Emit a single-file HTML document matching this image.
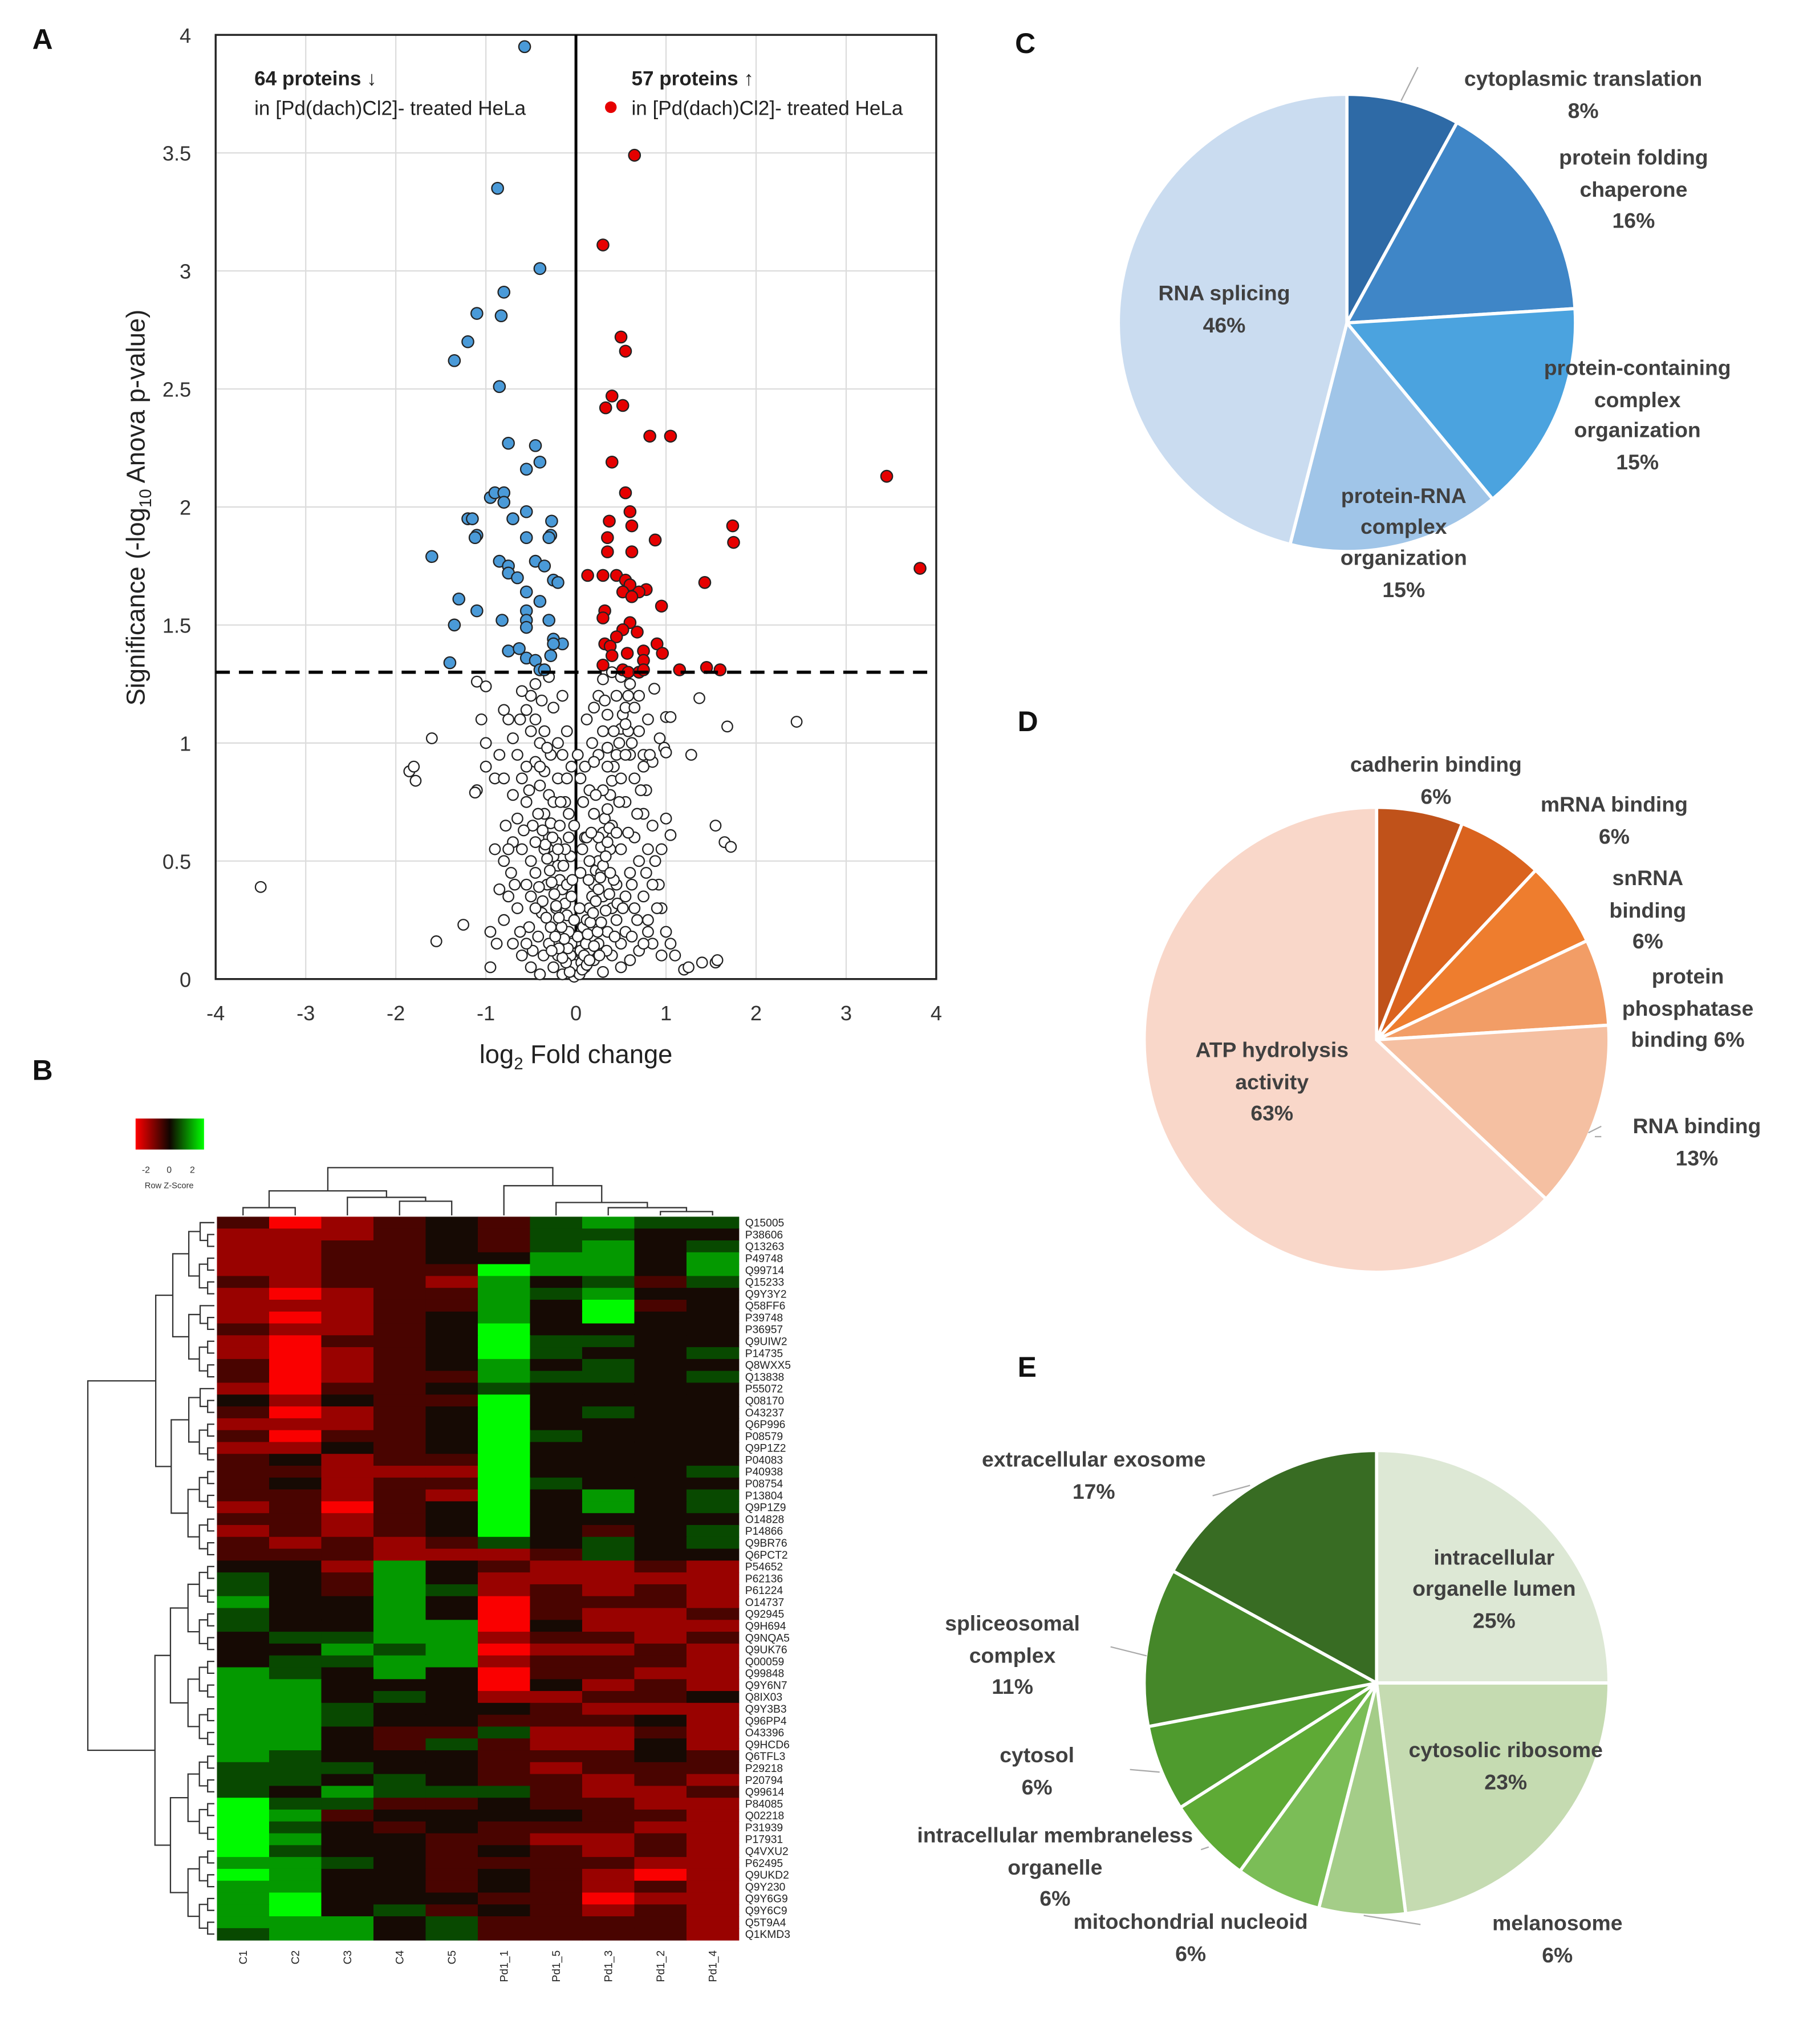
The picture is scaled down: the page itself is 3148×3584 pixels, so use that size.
<!DOCTYPE html>
<html><head><meta charset="utf-8">
<style>
html,body{margin:0;padding:0;background:#fff;}
svg{display:block;font-family:"Liberation Sans",sans-serif;}
.pl{font-weight:bold;fill:#404040;font-size:16.5px;text-anchor:middle;dominant-baseline:middle;}
.panel{font-weight:bold;font-size:22px;fill:#111;}
</style></head>
<body>
<svg id="fig" width="3148" height="3584" viewBox="0 0 1390 1582.5" xmlns="http://www.w3.org/2000/svg">
<rect width="1390" height="1582.5" fill="#fff"/>
<g id="volcano"></g>
<g id="heat"></g>
<g id="pies"></g>
<text class="panel" x="25" y="38">A</text>
<text class="panel" x="25" y="836">B</text>
<text class="panel" x="786" y="41">C</text>
<text class="panel" x="788" y="566">D</text>
<text class="panel" x="788" y="1066">E</text>
</svg>
<script>
// ---------- Volcano data ----------
const xTicks=[-4,-3,-2,-1,0,1,2,3,4];
const yTicks=[0,0.5,1,1.5,2,2.5,3,3.5,4];
const threshold=1.3;
const bluePts=[[-0.57,3.95],[-0.87,3.35],[-0.4,3.01],[-0.8,2.91],[-1.1,2.82],[-0.83,2.81],[-1.2,2.7],[-1.35,2.62],[-0.85,2.51],[-0.75,2.27],[-0.45,2.26],[-0.4,2.19],[-0.55,2.16],[-0.95,2.04],[-0.9,2.06],[-0.8,2.06],[-0.8,2.02],[-0.55,1.98],[-1.2,1.95],[-1.15,1.95],[-0.7,1.95],[-0.27,1.94],[-1.1,1.88],[-1.12,1.87],[-0.55,1.87],[-0.28,1.88],[-0.3,1.87],[-1.6,1.79],[-0.85,1.77],[-0.45,1.77],[-0.35,1.75],[-0.75,1.75],[-0.75,1.72],[-0.65,1.7],[-0.25,1.69],[-0.2,1.68],[-0.55,1.64],[-1.3,1.61],[-0.4,1.6],[-1.1,1.56],[-0.55,1.56],[-1.35,1.5],[-0.82,1.52],[-0.55,1.52],[-0.3,1.52],[-0.55,1.49],[-0.25,1.44],[-0.15,1.42],[-0.25,1.42],[-0.75,1.39],[-0.63,1.4],[-0.55,1.36],[-0.45,1.35],[-0.28,1.37],[-1.4,1.34],[-0.4,1.31],[-0.35,1.31]];
const redPts=[[0.65,3.49],[0.3,3.11],[0.5,2.72],[0.55,2.66],[0.4,2.47],[0.33,2.42],[0.52,2.43],[0.82,2.3],[1.05,2.3],[0.4,2.19],[3.45,2.13],[0.55,2.06],[0.6,1.98],[0.37,1.94],[0.62,1.92],[1.74,1.92],[0.35,1.87],[0.88,1.86],[1.75,1.85],[0.35,1.81],[0.62,1.81],[3.82,1.74],[0.13,1.71],[0.3,1.71],[0.45,1.71],[0.55,1.69],[1.43,1.68],[0.6,1.67],[0.78,1.65],[0.7,1.64],[0.52,1.64],[0.62,1.62],[0.95,1.58],[0.32,1.56],[0.3,1.53],[0.6,1.51],[0.52,1.48],[0.68,1.47],[0.45,1.45],[0.32,1.42],[0.9,1.42],[0.38,1.41],[0.75,1.39],[0.4,1.37],[0.96,1.38],[0.57,1.38],[0.75,1.35],[0.3,1.33],[0.52,1.31],[0.58,1.3],[0.7,1.3],[0.75,1.31],[1.15,1.31],[1.45,1.32],[1.6,1.31]];
const grayPts=[[-3.5,0.39],[-1.55,0.16],[-1.25,0.23],[-1.6,1.02],[-1.85,0.88],[-1.8,0.9],[-1.78,0.84],[-0.95,0.05],[-1.1,0.8],[-1.12,0.79],[-1.0,0.9],[-1.0,1.0],[-1.05,1.1],[-1.1,1.26],[-1.0,1.24],[-0.8,1.14],[1.1,0.1],[1.2,0.04],[1.25,0.05],[1.4,0.07],[1.55,0.07],[1.57,0.08],[1.55,0.65],[1.65,0.58],[1.72,0.56],[1.68,1.07],[2.45,1.09],[1.37,1.19],[1.28,0.95],[1.05,0.61],[1.0,0.68],[0.95,0.55],[1.0,1.11],[1.05,1.11],[0.93,1.02],[0.98,0.98],[1.0,0.96],[0.85,0.92],[0.75,0.95],[0.87,1.23],[0.92,0.4],[0.95,0.3],[1.0,0.2],[0.95,0.1],[1.05,0.15],[0.85,0.15],[0.8,0.25],
[0,0.02],[0.03,0.05],[-0.03,0.08],[0.05,0.12],[-0.05,0.15],[0.02,0.18],[-0.08,0.2],[0.08,0.22],[-0.1,0.27],[0.12,0.25],[-0.12,0.32],[0.15,0.3],[-0.15,0.38],[0.18,0.35],[-0.18,0.42],[0.2,0.4],[-0.2,0.48],[0.22,0.46],[-0.25,0.52],[0.25,0.5],[-0.22,0.58],[0.28,0.56],[-0.3,0.6],[0.3,0.62],[-0.28,0.66],[0.32,0.68],[-0.35,0.7],[0.35,0.72],[-0.3,0.78],[0.38,0.78],[-0.4,0.82],[0.4,0.84],[-0.35,0.88],[0.42,0.9],[-0.45,0.92],[0.45,0.95],[-0.4,1.0],[0.48,1.0],[-0.5,1.05],[0.5,1.06],[-0.45,1.1],[0.52,1.12],[-0.55,1.14],[0.55,1.15],[-0.5,1.2],[0.58,1.2],[-0.6,1.22],[0.6,1.25],[-0.3,1.28],[0.3,1.27],
[-0.6,0.1],[-0.5,0.05],[-0.4,0.02],[-0.7,0.15],[-0.65,0.3],[-0.75,0.35],[-0.8,0.25],[-0.55,0.4],[-0.6,0.55],[-0.7,0.58],[-0.75,0.55],[-0.8,0.5],[-0.65,0.68],[-0.55,0.75],[-0.6,0.85],[-0.65,0.95],[-0.7,1.02],[-0.75,1.1],[-0.85,0.95],[-0.9,0.85],[-0.8,0.85],[-0.55,0.9],[-0.48,0.65],[-0.45,0.45],[-0.38,0.28],[-0.3,0.15],[-0.25,0.05],[-0.2,0.1],[-0.15,0.02],[-0.35,0.55],[-0.25,0.75],[-0.2,0.85],[-0.15,0.95],[-0.1,1.05],[-0.25,1.15],[-0.15,1.2],[-0.05,0.9],[-0.08,0.6],[-0.1,0.4],[-0.05,0.35],[-0.42,0.18],[-0.52,0.22],[-0.32,0.4],[-0.42,0.7],[-0.22,0.3],[-0.18,0.65],[-0.12,0.75],[-0.35,1.05],[-0.28,0.95],[-0.62,1.1],[-0.9,0.55],[-0.85,0.38],[-0.95,0.2],[-0.2,1.0],
[0.1,0.05],[0.2,0.08],[0.3,0.03],[0.4,0.1],[0.5,0.05],[0.6,0.08],[0.7,0.12],[0.35,0.2],[0.45,0.25],[0.55,0.2],[0.65,0.3],[0.75,0.35],[0.85,0.4],[0.6,0.45],[0.7,0.5],[0.8,0.55],[0.5,0.55],[0.65,0.6],[0.75,0.7],[0.85,0.65],[0.55,0.75],[0.65,0.85],[0.75,0.9],[0.6,0.95],[0.7,1.05],[0.8,1.1],[0.65,1.15],[0.7,1.2],[0.45,1.2],[0.4,1.3],[0.2,0.7],[0.15,0.8],[0.1,0.9],[0.18,1.0],[0.12,1.1],[0.2,1.15],[0.25,1.2],[0.1,0.6],[0.15,0.5],[0.25,0.6],[0.3,0.8],[0.35,0.9],[0.25,0.95],[0.3,1.05],[0.35,1.12],[0.4,0.65],[0.45,0.4],[0.4,0.3],[0.3,0.35],[0.25,0.15],[0.15,0.12],[0.55,0.35],[0.5,0.85],[0.8,0.2],[0.9,0.3],[0.78,0.8],[0.58,1.05],[0.48,0.75],[0.38,0.55],[0.28,0.45],
[-0.02,0.01],[0.01,0.03],[-0.04,0.04],[0.04,0.02],[-0.01,0.06],[0.06,0.07],[-0.06,0.1],[0.09,0.1],[-0.09,0.13],[0.11,0.15],[-0.13,0.17],[0.13,0.19],[-0.16,0.22],[0.16,0.24],[-0.19,0.26],[0.19,0.28],[-0.22,0.31],[0.22,0.33],[-0.24,0.36],[0.25,0.38],[-0.27,0.41],[0.27,0.43],[-0.29,0.46],[0.3,0.48],[-0.32,0.51],[0.33,0.52],[-0.34,0.57],[0.35,0.58],[-0.37,0.63],[0.37,0.64],
[-0.07,0.03],[0.07,0.04],[-0.11,0.07],[0.12,0.06],[-0.15,0.09],[0.15,0.08],[-0.19,0.13],[0.2,0.14],[-0.23,0.18],[0.24,0.2],[-0.28,0.22],[0.28,0.24],[-0.33,0.26],[0.33,0.29],[-0.37,0.33],[0.37,0.36],[-0.41,0.39],[0.42,0.42],[-0.45,0.3],[0.46,0.32],[-0.5,0.35],[0.5,0.15],[-0.48,0.12],[0.43,0.18],[-0.36,0.1],[0.34,0.12],[-0.27,0.12],[0.26,0.1],[-0.02,0.25],[0.04,0.3],
[-0.04,0.42],[0.05,0.45],[-0.06,0.52],[0.07,0.55],[-0.12,0.55],[0.12,0.6],[-0.14,0.48],[0.14,0.42],[-0.08,0.7],[0.08,0.75],[-0.17,0.75],[0.17,0.62],[-0.1,0.85],[0.05,0.85],[-0.02,0.65],[0.02,0.95],[-0.2,0.55],[0.22,0.78],[-0.26,0.6],[0.2,0.92],
[-0.55,0.15],[-0.62,0.2],[-0.68,0.4],[-0.5,0.5],[-0.58,0.63],[-0.45,0.58],[-0.52,0.8],[-0.4,0.9],[-0.32,0.98],[-0.38,1.18],[-0.45,1.25],[-0.7,0.78],[-0.78,0.65],[-0.72,0.45],[-0.88,0.15],
[0.52,0.3],[0.62,0.4],[0.58,0.62],[0.68,0.7],[0.72,0.8],[0.55,0.95],[0.62,1.0],[0.5,1.28],[0.42,1.05],[0.68,0.25],[0.75,0.15],[0.78,0.45],[0.88,0.5],[0.82,0.95],[0.45,0.62],[0.38,0.45],[0.62,0.18],[0.35,0.98],[0.32,1.18],[0.55,1.08]];

// ---------- Heatmap data ----------
const colLabels=["C1","C2","C3","C4","C5","Pd1_1","Pd1_5","Pd1_3","Pd1_2","Pd1_4"];
const rowLabels=["Q15005","P38606","Q13263","P49748","Q99714","Q15233","Q9Y3Y2","Q58FF6","P39748","P36957","Q9UIW2","P14735","Q8WXX5","Q13838","P55072","Q08170","O43237","Q6P996","P08579","Q9P1Z2","P04083","P40938","P08754","P13804","Q9P1Z9","O14828","P14866","Q9BR76","Q6PCT2","P54652","P62136","P61224","O14737","Q92945","Q9H694","Q9NQA5","Q9UK76","Q00059","Q99848","Q9Y6N7","Q8IX03","Q9Y3B3","Q96PP4","O43396","Q9HCD6","Q6TFL3","P29218","P20794","Q99614","P84085","Q02218","P31939","P17931","Q4VXU2","P62495","Q9UKD2","Q9Y230","Q9Y6G9","Q9Y6C9","Q5T9A4","Q1KMD3"];
const heatRows=["2012324544","1112324433","1122324534","1122335535","1122265535","2122153424","1012254533","1112253623","1012353633","2112363333","1022364433","1012364334","2012353433","2012254434","1022343333","3132263333","2012363433","1112363333","2022364333","1132363333","2312263333","2211163334","2312264333","2212163534","1202363534","2212363333","1212363234","2121243434","2221112433","3315321121","4325311111","4325412121","5335302221","4335302112","4335503111","3445512212","3354501121","3445512221","5435302211","5533303121","5534311223","5543332111","5543322231","5532241121","5532421131","5433322232","4443321222","4434322121","4354442112","6442232211","6523333221","6432322211","6533221121","6433232121","5543222211","6533232101","5533232121","5633322011","5634232121","5553422221","4553422221"];

// ---------- Pie data ----------
const pieCLabels=["cytoplasmic translation","protein folding chaperone","protein-containing complex organization","protein-RNA complex organization","RNA splicing"];
const pieCValues=[8,16,15,15,46];
const pieDLabels=["cadherin binding","mRNA binding","snRNA binding","protein phosphatase binding","RNA binding","ATP hydrolysis activity"];
const pieDValues=[6,6,6,6,13,63];
const pieELabels=["intracellular organelle lumen","cytosolic ribosome","melanosome","mitochondrial nucleoid","intracellular membraneless organelle","cytosol","spliceosomal complex","extracellular exosome"];
const pieEValues=[25,23,6,6,6,6,11,17];

const NS="http://www.w3.org/2000/svg";
function mk(tag,attrs,parent,txt){const e=document.createElementNS(NS,tag);for(const k in attrs)e.setAttribute(k,attrs[k]);if(txt!==undefined)e.textContent=txt;parent.appendChild(e);return e;}

// ---------- Volcano ----------
(function(){
const g=document.getElementById('volcano');
const L=167,R=725,T=27,B=758;
const sx=v=>L+(v+4)/8*(R-L), sy=v=>B-v/4*(B-T);
xTicks.forEach(t=>{
 const l=mk('line',{x1:sx(t),x2:sx(t),y1:T,y2:B,stroke:'#dcdcdc','stroke-width':1},g);
 
 
 const tx=mk('text',{x:sx(t),y:790,'font-size':16,'text-anchor':'middle',fill:'#333'},g,String(t));
 
 
});
yTicks.forEach(t=>{
 const l=mk('line',{x1:L,x2:R,y1:sy(t),y2:sy(t),stroke:'#dcdcdc','stroke-width':1},g);
 
 
 const tx=mk('text',{x:148,y:sy(t)+6,'font-size':16,'text-anchor':'end',fill:'#333'},g,String(t));
 
 
});
const fr=mk('rect',{x:L,y:T,width:R-L,height:B-T,fill:'none',stroke:'#222','stroke-width':1.5},g);


const zl=mk('line',{x1:sx(0),x2:sx(0),y1:T,y2:B,stroke:'#000','stroke-width':2.2},g);


function dots(arr,fill,r,name){arr.forEach(p=>{const c=mk('circle',{cx:sx(p[0]),cy:sy(p[1]),r:r,fill:fill,stroke:'#222','stroke-width':1},g);
 
 });}
dots(grayPts,'#fff',4.1,'nonsignificant-point');
dots(bluePts,'#4a9ad8',4.5,'downregulated-point');
dots(redPts,'#e60000',4.5,'upregulated-point');
const th=mk('line',{x1:L,x2:R,y1:sy(threshold),y2:sy(threshold),stroke:'#000','stroke-width':2.5,'stroke-dasharray':'11,7'},g);


const a=[['64 proteins ↓',197,66,true,'legend-down-title'],['in [Pd(dach)Cl2]- treated HeLa',197,89,false,'legend-down-text'],['57 proteins ↑',489,66,true,'legend-up-title'],['in [Pd(dach)Cl2]- treated HeLa',489,89,false,'legend-up-text']];
a.forEach(d=>{const t=mk('text',{x:d[1],y:d[2],'font-size':15.5,'font-weight':d[3]?'bold':'normal',fill:'#222'},g,d[0]);
 
 });
const ld=mk('circle',{cx:473,cy:83,r:4.5,fill:'#e60000'},g);


const xt=mk('text',{x:446,y:823,'font-size':20,'text-anchor':'middle',fill:'#222'},g);


xt.innerHTML='log<tspan font-size="13" dy="5">2</tspan><tspan dy="-5"> Fold change</tspan>';
const yt=mk('text',{x:0,y:0,'font-size':20,'text-anchor':'middle',fill:'#222',transform:'translate(112,393) rotate(-90)'},g);


yt.innerHTML='Significance (-log<tspan font-size="13" dy="5">10</tspan><tspan dy="-5"> Anova p-value)</tspan>';
})();

// ---------- Heatmap ----------
(function(){
const g=document.getElementById('heat');
const L=168,R=572,T=942,B=1502;
const nC=colLabels.length,nR=heatRows.length;
const cw=(R-L)/nC, rh=(B-T)/nR;
function col(v){const z=v-3;if(z<0){const k=Math.pow(-z/3,1.4);return `rgb(${Math.round(25+k*225)},${Math.round(5*(1-k))},0)`;}
 if(z>0){const k=Math.pow(z/3,1.4);return `rgb(${Math.round(10*(1-k))},${Math.round(25+k*225)},0)`;}return 'rgb(22,10,4)';}
heatRows.forEach((row,i)=>{
 for(let j=0;j<nC;j++){const v=+row[j];
  const c=mk('rect',{x:L+j*cw,y:T+i*rh,width:cw+0.4,height:rh+0.4,fill:col(v)},g);
  
  }
 const t=mk('text',{x:577,y:T+i*rh+rh/2+3,'font-size':8.5,fill:'#222'},g,rowLabels[i]);
 
 
});
colLabels.forEach((c,j)=>{
 const x=L+j*cw+cw/2+3;
 const t=mk('text',{x:0,y:0,'font-size':8.5,fill:'#222',transform:`translate(${x},1510) rotate(-90)`,'text-anchor':'end'},g,c);
 
 
});
const cx=j=>L+j*cw+cw/2;
const dg=mk('g',{stroke:'#333','stroke-width':1,fill:'none'},g);


function U(x1,x2,y,y1,y2){mk('path',{d:`M${x1},${y1}V${y}H${x2}V${y2}`},dg);}
U(cx(0),cx(1),935,941,941);
U(cx(3),cx(4),930,941,941);
U(cx(2),(cx(3)+cx(4))/2,927,941,930);
U((cx(0)+cx(1))/2,(cx(2)+(cx(3)+cx(4))/2)/2,922,935,927);
U(cx(8),cx(9),938,941,941);
U(cx(7),(cx(8)+cx(9))/2,935,941,938);
U(cx(6),(cx(7)+(cx(8)+cx(9))/2)/2,931,941,935);
U(cx(5),(cx(6)+(cx(7)+(cx(8)+cx(9))/2)/2)/2,918,941,931);
U(((cx(0)+cx(1))/2+(cx(2)+(cx(3)+cx(4))/2)/2)/2,(cx(5)+(cx(6)+(cx(7)+(cx(8)+cx(9))/2)/2)/2)/2,904,922,918);
const rg=mk('g',{stroke:'#333','stroke-width':1,fill:'none'},g);


function rec(a,b,depth){
 if(b-a<=1){return [T+a*rh+rh/2,166];}
 const m=Math.floor((a+b)/2);
 const l=rec(a,m,depth+1), r=rec(m,b,depth+1);
 const x=Math.min(l[1],r[1])-(depth<1?0:(b-a>20?12:4+ (b-a)*0.6));
 mk('path',{d:`M${l[1]},${l[0]}H${x}V${r[0]}H${r[1]}`},rg);
 return [(l[0]+r[0])/2,x];
}
const top=rec(0,29,1), bot=rec(29,nR,1);
mk('path',{d:`M${top[1]},${top[0]}H68V${bot[0]}H${bot[1]}`},rg);
const defs=mk('defs',{},g);
const lg=mk('linearGradient',{id:'zk',x1:0,x2:1,y1:0,y2:0},defs);
mk('stop',{offset:'0',  'stop-color':'#ff0000'},lg);
mk('stop',{offset:'0.5','stop-color':'#100500'},lg);
mk('stop',{offset:'1',  'stop-color':'#00ff00'},lg);
const key=mk('rect',{x:105,y:866,width:53,height:24,fill:'url(#zk)'},g);


[['-2',113],['0',131],['2',149]].forEach(d=>{const t=mk('text',{x:d[1],y:908,'font-size':7,'text-anchor':'middle',fill:'#333'},g,d[0]);
 
 });
const kt=mk('text',{x:131,y:920,'font-size':6.5,'text-anchor':'middle',fill:'#333'},g,'Row Z-Score');


})();

// ---------- Pies ----------
(function(){
const g=document.getElementById('pies');
function pie(cx,cy,r,vals,cols,names,tag){
 const tot=vals.reduce((a,b)=>a+b,0);let a0=0;
 vals.forEach((v,i)=>{const a1=a0+v/tot*2*Math.PI;
  const p=(a)=>[cx+r*Math.sin(a),cy-r*Math.cos(a)];
  const s=p(a0),e=p(a1);
  const path=mk('path',{d:`M${cx},${cy}L${s[0]},${s[1]}A${r},${r} 0 ${a1-a0>Math.PI?1:0} 1 ${e[0]},${e[1]}Z`,fill:cols[i],stroke:'#fff','stroke-width':2.5},g);
  
  
  a0=a1;});
}
pie(1043,250,177,pieCValues,['#2e6aa6','#3f86c7','#4ba3df','#a0c5e8','#cadcf0'],pieCLabels,'pie-c');
pie(1066,805,180,pieDValues,['#c0521a','#da631e','#ee7d2e','#f29d66','#f5c0a2','#f9d7c9'],pieDLabels,'pie-d');
pie(1066,1303,180,pieEValues,['#dde8d5','#c5dbb1','#a4cd88','#7bbd57','#5eaa35','#4f9b2e','#458729','#386c23'],pieELabels,'pie-e');
const lines=[[1085,78,1098,52],[1230,877,1240,872],[1240,880,1235,880],[939,1158,968,1150],[888,1282,860,1275],[898,1372,875,1370],[936,1430,930,1432],[1056,1483,1100,1490]];
lines.forEach(l=>{const e=mk('line',{x1:l[0],y1:l[1],x2:l[2],y2:l[3],stroke:'#aaa','stroke-width':1},g);
 
 });
const labels=[
 [1226,[62,87],['cytoplasmic translation','8%']],
 [1265,[123,148,172],['protein folding','chaperone','16%']],
 [1268,[286,311,334,359],['protein-containing','complex','organization','15%']],
 [1087,[385,409,433,458],['protein-RNA','complex','organization','15%']],
 [948,[228,253],['RNA splicing','46%']],
 [1112,[593,618],['cadherin binding','6%']],
 [1250,[624,649],['mRNA binding','6%']],
 [1276,[681,706,730],['snRNA','binding','6%']],
 [1307,[757,782,806],['protein','phosphatase','binding 6%']],
 [1314,[873,898],['RNA binding','13%']],
 [985,[814,839,863],['ATP hydrolysis','activity','63%']],
 [847,[1131,1156],['extracellular exosome','17%']],
 [1157,[1207,1231,1256],['intracellular','organelle lumen','25%']],
 [784,[1258,1283,1307],['spliceosomal','complex','11%']],
 [1166,[1356,1381],['cytosolic ribosome','23%']],
 [803,[1360,1385],['cytosol','6%']],
 [817,[1422,1447,1471],['intracellular membraneless','organelle','6%']],
 [922,[1489,1514],['mitochondrial nucleoid','6%']],
 [1206,[1490,1515],['melanosome','6%']]];
labels.forEach(lb=>{lb[2].forEach((s,i)=>{const t=mk('text',{x:lb[0],y:lb[1][i],class:'pl'},g,s);
 
 });});
})();
</script>
</body></html>
